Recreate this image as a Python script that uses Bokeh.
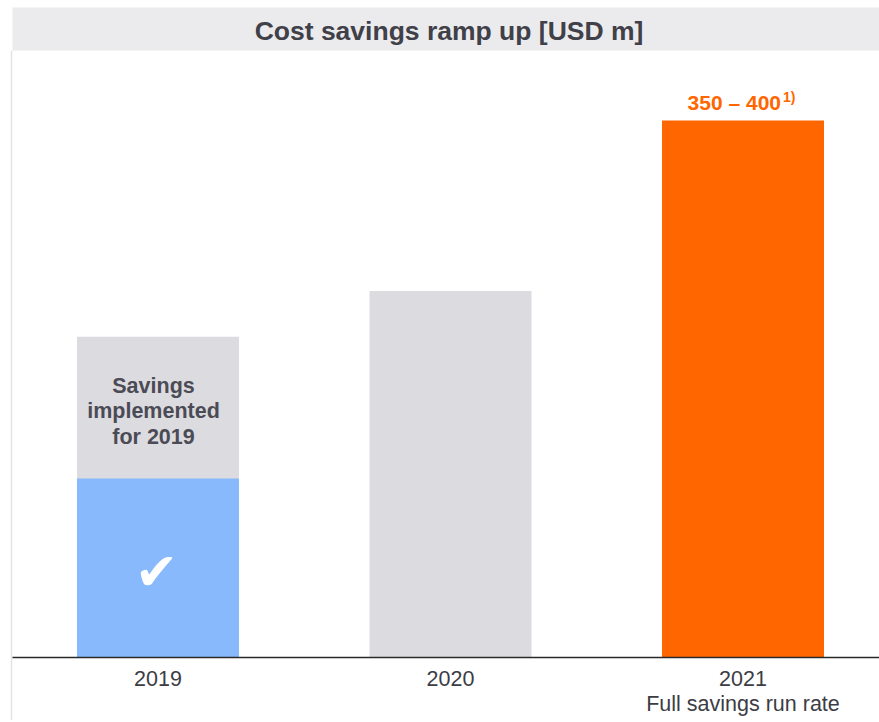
from bokeh.plotting import figure
from bokeh.models import Range1d, ColumnDataSource
from bokeh.core.properties import value
from bokeh.embed import file_html
from bokeh.resources import INLINE

# ---- data ----
years = ["2019", "2020", "2021"]
sublabels = ["", "", "Full savings run rate"]
implemented_2019 = 125          # savings already implemented (blue)
totals = [224, 256, 375]        # total savings per year, USD m
range_label = "350 \u2013 400"
range_note = "1)"
inner_lines = ["Savings", "implemented", "for 2019"]
title_text = "Cost savings ramp up [USD m]"

# ---- layout constants (pixel geometry) ----
W, H = 879, 720
XC0 = 157.5           # px centre of first bar
XS = 292.5            # px per category
YB = 657              # px of baseline
YS = 1.432            # px per USD m


def px_x(px):
    return (px - XC0) / XS


def px_y(py):
    return (YB - py) / YS


x0, x1 = px_x(0), px_x(W)
y0, y1 = px_y(H), px_y(0)
BAR_W = 162 / XS

FONT = value("Liberation Sans")

p = figure(width=W, height=H, x_range=Range1d(x0, x1), y_range=Range1d(y0, y1),
           output_backend="svg", toolbar_location=None,
           x_axis_location=None, y_axis_location=None,
           min_border=0, min_border_left=0, min_border_right=0,
           min_border_top=0, min_border_bottom=0)
p.grid.visible = False
p.outline_line_color = None
p.background_fill_color = "white"
p.border_fill_color = "white"

idx = list(range(len(years)))

# title bar
p.quad(left=[px_x(12)], right=[x1 + 1], bottom=[px_y(50)], top=[px_y(7)],
       fill_color="#ebebee", line_color=None)
p.text(x=[px_x(448.5)], y=[px_y(30)], text=[title_text],
       text_font=FONT, text_font_size="26.5px", text_font_style="bold",
       text_color="#404048", text_align="center", text_baseline="middle")

# left thin border
p.segment(x0=[px_x(11)], y0=[px_y(50)], x1=[px_x(11)], y1=[y0 - 5],
          line_color="#e4e4e6", line_width=1.5)

# bars
colors = ["#dcdbe0", "#dcdbe0", "#ff6600"]
src = ColumnDataSource(dict(x=idx, top=totals, color=colors))
p.vbar(x="x", top="top", bottom=0, width=BAR_W, fill_color="color", line_color=None, source=src)
p.vbar(x=[0], top=[implemented_2019], bottom=0, width=BAR_W, fill_color="#89b9fd", line_color=None)

# baseline
p.segment(x0=[px_x(12)], y0=[0], x1=[x1 + 1], y1=[0], line_color="#2a2a2a", line_width=1.5)

# inner labels of 2019 bar
p.text(x=[px_x(153)] * len(inner_lines),
       y=[px_y(385), px_y(410.5), px_y(436)],
       text=inner_lines, text_font=FONT, text_font_size="21.5px", text_font_style="bold",
       text_color="#4b4b55", text_align="center", text_baseline="middle")

# check mark
p.text(x=[px_x(156)], y=[px_y(571)], text=["\u2714"], text_font=value("DejaVu Sans"),
       text_font_size="52px", text_color="white", text_align="center", text_baseline="middle")

# range label on 2021
p.text(x=[2 + 38 / XS], y=[totals[2] + 18 / YS], text=[range_label], text_font=FONT,
       text_font_size="21px", text_font_style="bold", text_color="#ff6600",
       text_align="right", text_baseline="middle")
p.text(x=[2 + 40 / XS], y=[totals[2] + 24 / YS], text=[range_note], text_font=FONT,
       text_font_size="14px", text_font_style="bold", text_color="#ff6600",
       text_align="left", text_baseline="middle")

# category labels
p.text(x=idx, y=[px_y(678)] * 3, text=years, text_font=FONT, text_font_size="21.5px",
       text_color="#3c3c44", text_align="center", text_baseline="middle")
p.text(x=idx, y=[px_y(703)] * 3, text=sublabels, text_font=FONT, text_font_size="21.5px",
       text_color="#3c3c44", text_align="center", text_baseline="middle")

open("out.html", "w").write(file_html(p, INLINE))
